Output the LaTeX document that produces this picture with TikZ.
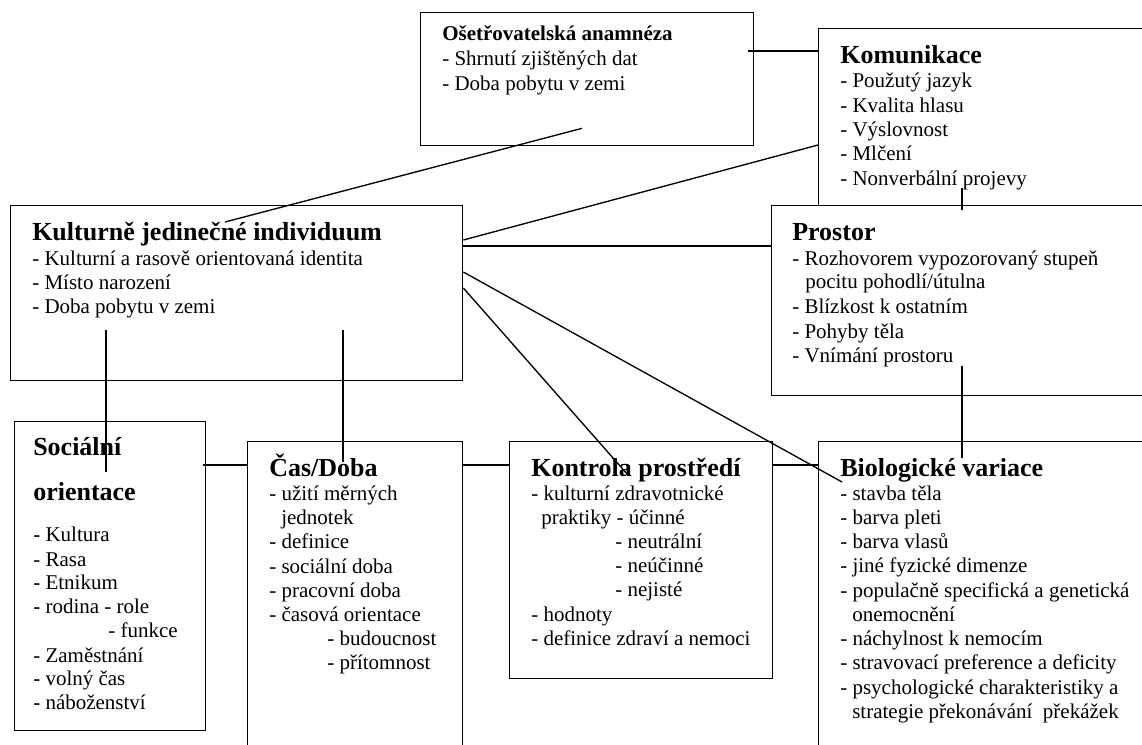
\documentclass[tikz,border=0pt]{standalone}
\usepackage{fontspec}
\setmainfont{Liberation Serif}
\usetikzlibrary{calc}

\tikzset{
	box/.style={draw, fill=white, line width=1pt, anchor=north west, inner sep=0pt},
	item/.style={anchor=base west, inner sep=0pt, font=\fontsize{15.75}{18}\selectfont},
	head/.style={anchor=base west, inner sep=0pt, font=\fontsize{19.5}{23}\selectfont\bfseries},
	link/.style={line width=1pt}
}

\begin{document}
\begin{tikzpicture}[x=0.75pt,y=-0.75pt]
		\useasboundingbox (0,0) rectangle (1142,744);
		\clip (0,0) rectangle (1142,744);
		% boxes
		\node[box, minimum width=249.75pt, minimum height=99.75pt] (oset) at (420,12) {};
		\node[box, minimum width=249pt, minimum height=140.25pt] (komu) at (818,28) {};
		\node[box, minimum width=284.25pt, minimum height=142.5pt] (pros) at (771,205) {};
		\node[box, minimum width=339pt, minimum height=131.25pt] (kult) at (10,205) {};
		\node[box, minimum width=143.25pt, minimum height=231.75pt] (soc) at (14,421) {};
		\node[box, minimum width=161.25pt, minimum height=239.25pt] (cas) at (247,441) {};
		\node[box, minimum width=197.25pt, minimum height=177.75pt] (kont) at (509,441) {};
		\node[box, minimum width=249pt, minimum height=239.25pt] (bio) at (818,441) {};
		% texts
		\node[item, font=\fontsize{15.75}{18}\selectfont\bfseries] (oset-t) at (442,40) {Ošetřovatelská anamnéza};
		\foreach \y/\name in {
			65/{- Shrnutí zjištěných dat},
			90/{- Doba pobytu v zemi}
		}{
			\node[item] (oset-\y) at (442,\y) {\name};
		}
		\node[head] (komu-t) at (840,63) {Komunikace};
		\foreach \y/\name in {
			87/{- Použutý jazyk},
			112/{- Kvalita hlasu},
			136/{- Výslovnost},
			160/{- Mlčení},
			185/{- Nonverbální projevy}
		}{
			\node[item] (komu-\y) at (840,\y) {\name};
		}
		\node[head] (pros-t) at (792,240) {Prostor};
		\foreach \x/\y/\name in {
			792/265/{- Rozhovorem vypozorovaný stupeň},
			805/288/{pocitu pohodlí/útulna},
			792/313/{- Blízkost k ostatním},
			792/338/{- Pohyby těla},
			792/362/{- Vnímání prostoru}
		}{
			\node[item] (pros-\y) at (\x,\y) {\name};
		}
		\node[head] (kult-t) at (32,240) {Kulturně jedinečné individuum};
		\foreach \y/\name in {
			265/{- Kulturní a rasově orientovaná identita},
			289/{- Místo narození},
			313/{- Doba pobytu v zemi}
		}{
			\node[item] (kult-\y) at (32,\y) {\name};
		}
		\node[head] (soc-t) at (33,455) {Sociální};
		\node[head] (soc-t2) at (33,500) {orientace};
		\foreach \x/\y/\name in {
			33/541/{- Kultura},
			33/566/{- Rasa},
			33/589/{- Etnikum},
			33/613/{- rodina - role},
			108/637/{- funkce},
			33/662/{- Zaměstnání},
			33/685/{- volný čas},
			33/709/{- náboženství}
		}{
			\node[item] (soc-\y) at (\x,\y) {\name};
		}
		\node[head] (cas-t) at (269,476) {Čas/Doba};
		\foreach \x/\y/\name in {
			269/500/{- užití měrných},
			281/524/{jednotek},
			269/548/{- definice},
			269/573/{- sociální doba},
			269/597/{- pracovní doba},
			269/621/{- časová orientace},
			327/645/{- budoucnost},
			327/669/{- přítomnost}
		}{
			\node[item] (cas-\y) at (\x,\y) {\name};
		}
		\node[head] (kont-t) at (531,476) {Kontrola prostředí};
		\foreach \x/\y/\name in {
			531/500/{- kulturní zdravotnické},
			541/524/{praktiky - účinné},
			615/548/{- neutrální},
			615/572/{- neúčinné},
			615/596/{- nejisté},
			531/621/{- hodnoty},
			531/645/{- definice zdraví a nemoci}
		}{
			\node[item] (kont-\y) at (\x,\y) {\name};
		}
		\node[head] (bio-t) at (840,476) {Biologické variace};
		\foreach \x/\y/\name in {
			840/500/{- stavba těla},
			840/524/{- barva pleti},
			840/548/{- barva vlasů},
			840/572/{- jiné fyzické dimenze},
			840/597/{- populačně specifická a genetická},
			852/621/{onemocnění},
			840/645/{- náchylnost k nemocím},
			840/669/{- stravovací preference a deficity},
			840/694/{- psychologické charakteristiky a},
			852/718/{strategie překonávání \ překážek}
		}{
			\node[item] (bio-\y) at (\x,\y) {\name};
		}
		% connectors
		\draw[link] ($(oset.north east)+(-6,39)$) -- ($(komu.north west)+(0,23)$);
		\draw[link] ($(kult.north west)+(215,17)$) -- ($(oset.south west)+(162,-18)$);
		\draw[link] ($(kult.north east)+(0,35)$) -- ($(komu.north west)+(0,117)$);
		\draw[link] ($(kult.north east)+(0,41)$) -- ($(pros.north west)+(0,41)$);
		\draw[link] ($(kult.north east)+(0,67)$) -- ($(bio.north west)+(24,41)$);
		\draw[link] ($(kult.north east)+(0,83)$) -- ($(kont.north west)+(119,34)$);
		\draw[link] ($(kult.south west)+(96,-51)$) -- ($(soc.north west)+(92,51)$);
		\draw[link] ($(kult.south west)+(333,-51)$) -- ($(cas.north west)+(96,21)$);
		\draw[link] ($(soc.north east)+(-3,44)$) -- ($(cas.north west)+(0,24)$);
		\draw[link] ($(cas.north east)+(0,24)$) -- ($(kont.north west)+(0,24)$);
		\draw[link] ($(kont.north east)+(0,24)$) -- ($(bio.north west)+(0,24)$);
		\draw[link] ($(komu.north west)+(144,160)$) -- ($(pros.north west)+(191,5)$);
		\draw[link] ($(pros.south west)+(191,-30)$) -- ($(bio.north west)+(144,17)$);
	\end{tikzpicture}
\end{document}
